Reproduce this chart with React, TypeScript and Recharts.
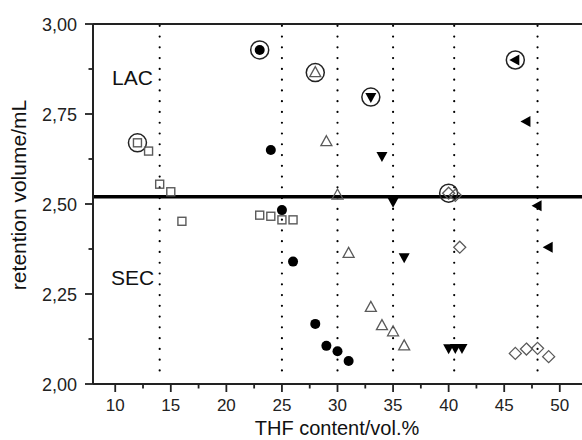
import { ScatterChart, Scatter, XAxis, YAxis, ReferenceLine, Customized } from "recharts";

// [THF vol.%, retention volume mL]
const openSquares = [
  [12, 2.67], [13, 2.647], [14, 2.555], [15, 2.534], [16, 2.452],
  [23, 2.469], [24, 2.466], [25, 2.456], [26, 2.456],
];
const filledCircles = [
  [23, 2.928], [24, 2.65], [25, 2.483], [26, 2.34],
  [28, 2.167], [29, 2.106], [30, 2.091], [31, 2.064],
];
const openTriangles = [
  [28, 2.865], [29, 2.673], [30, 2.525], [31, 2.363],
  [33, 2.213], [34, 2.162], [35, 2.145], [36, 2.106],
];
const filledDownTriangles = [
  [33, 2.797], [34, 2.633], [35, 2.506], [36, 2.352],
  [40, 2.099], [40.6, 2.1], [41.2, 2.1],
];
const openDiamonds = [
  [40, 2.53], [40.6, 2.524], [41, 2.38],
  [46, 2.085], [47, 2.097], [48, 2.099], [49, 2.076],
];
const filledLeftTriangles = [
  [46, 2.9], [47, 2.729], [48, 2.495], [49, 2.38],
];

// the first point of each series is circled in the figure
const circled = [
  openSquares[0], filledCircles[0], openTriangles[0],
  filledDownTriangles[0], openDiamonds[0], filledLeftTriangles[0],
];

const phaseBoundaries = [14, 25, 30, 35, 40.5, 48];
const lacSecBorder = 2.52;

const xTicks = [10, 12.5, 15, 17.5, 20, 22.5, 25, 27.5, 30, 32.5, 35, 37.5, 40, 42.5, 45, 47.5, 50];
const yTicks = [2, 2.125, 2.25, 2.375, 2.5, 2.625, 2.75, 2.875, 3];

const toPts = (arr: number[][]) => arr.map(([x, y]) => ({ x, y }));

const GRAY = "#5a5a5a";
const AXIS = "#222";
const FONT = "Liberation Sans, Arial, sans-serif";

function Marker({ cx, cy, kind }: any) {
  if (cx == null || cy == null) return null;
  switch (kind) {
    case "square":
      return <rect x={cx - 4} y={cy - 4} width={8} height={8} fill="none" stroke={GRAY} strokeWidth={1.4} />;
    case "circle":
      return <circle cx={cx} cy={cy} r={5} fill="#000" />;
    case "up":
      return (
        <polygon
          points={`${cx},${cy - 6} ${cx + 5.5},${cy + 4} ${cx - 5.5},${cy + 4}`}
          fill="none"
          stroke={GRAY}
          strokeWidth={1.3}
        />
      );
    case "down":
      return <polygon points={`${cx - 5.5},${cy - 4} ${cx + 5.5},${cy - 4} ${cx},${cy + 6}`} fill="#000" />;
    case "diamond":
      return (
        <polygon
          points={`${cx},${cy - 6} ${cx + 6},${cy} ${cx},${cy + 6} ${cx - 6},${cy}`}
          fill="none"
          stroke={GRAY}
          strokeWidth={1.3}
        />
      );
    case "left":
      return <polygon points={`${cx - 6},${cy} ${cx + 4},${cy - 5.5} ${cx + 4},${cy + 5.5}`} fill="#000" />;
    case "ring":
      return <circle cx={cx} cy={cy} r={9} fill="none" stroke="#222" strokeWidth={1.5} />;
    default:
      return null;
  }
}

function XTick({ x, y, payload }: any) {
  const major = payload.value % 5 === 0;
  return (
    <g>
      <line x1={x} y1={y} x2={x} y2={y + (major ? 8 : 4.5)} stroke={AXIS} strokeWidth={1.8} />
      {major && (
        <text x={x} y={y + 27} textAnchor="middle" fontSize={17} fontFamily={FONT} fill="#222">
          {payload.value}
        </text>
      )}
    </g>
  );
}

function YTick({ x, y, payload }: any) {
  const v = payload.value;
  const major = Math.abs(v * 4 - Math.round(v * 4)) < 1e-6;
  return (
    <g>
      <line x1={x} y1={y} x2={x - (major ? 8 : 4.5)} y2={y} stroke={AXIS} strokeWidth={1.8} />
      {major && (
        <text x={x - 16} y={y + 6.5} textAnchor="end" fontSize={18} fontFamily={FONT} fill="#222">
          {v.toFixed(2).replace(".", ",")}
        </text>
      )}
    </g>
  );
}

function Annotations() {
  return (
    <g fontFamily={FONT} fill="#111">
      <text x={112} y={85} fontSize={21}>LAC</text>
      <text x={111} y={285} fontSize={21}>SEC</text>
      <text x={337} y={435} fontSize={20} textAnchor="middle">THF content/vol.%</text>
      <text x={26} y={195} fontSize={21} textAnchor="middle" transform="rotate(-90 26 195)">
        retention volume/mL
      </text>
    </g>
  );
}

export default function App() {
  return (
    <div style={{ position: "absolute", left: 0, top: 0, background: "#fff" }}>
      <ScatterChart width={582} height={440} margin={{ top: 24, right: 0, bottom: 0, left: 0 }}>
        <XAxis
          type="number"
          dataKey="x"
          domain={[8, 52]}
          ticks={xTicks}
          interval={0}
          allowDataOverflow
          height={56}
          tickSize={0}
          tickMargin={0}
          tickLine={false}
          axisLine={{ stroke: AXIS, strokeWidth: 2 }}
          tick={<XTick />}
        />
        <YAxis
          type="number"
          dataKey="y"
          domain={[2, 3]}
          ticks={yTicks}
          interval={0}
          allowDataOverflow
          width={93}
          tickSize={0}
          tickMargin={0}
          tickLine={false}
          axisLine={{ stroke: AXIS, strokeWidth: 2 }}
          tick={<YTick />}
        />
        <ReferenceLine y={3} stroke={AXIS} strokeWidth={2} />
        {phaseBoundaries.map((b) => (
          <ReferenceLine
            key={b}
            segment={[{ x: b, y: 2.995 }, { x: b, y: 2.01 }]}
            stroke="#000"
            strokeWidth={2.2}
            strokeLinecap="round"
            strokeDasharray="0 10.77"
          />
        ))}
        <ReferenceLine y={lacSecBorder} stroke="#000" strokeWidth={3.5} />
        <Scatter data={toPts(circled)} isAnimationActive={false} shape={(p: any) => <Marker {...p} kind="ring" />} />
        <Scatter data={toPts(openSquares)} isAnimationActive={false} shape={(p: any) => <Marker {...p} kind="square" />} />
        <Scatter data={toPts(filledCircles)} isAnimationActive={false} shape={(p: any) => <Marker {...p} kind="circle" />} />
        <Scatter data={toPts(openTriangles)} isAnimationActive={false} shape={(p: any) => <Marker {...p} kind="up" />} />
        <Scatter
          data={toPts(filledDownTriangles)}
          isAnimationActive={false}
          shape={(p: any) => <Marker {...p} kind="down" />}
        />
        <Scatter data={toPts(openDiamonds)} isAnimationActive={false} shape={(p: any) => <Marker {...p} kind="diamond" />} />
        <Scatter
          data={toPts(filledLeftTriangles)}
          isAnimationActive={false}
          shape={(p: any) => <Marker {...p} kind="left" />}
        />
        <Customized component={Annotations} />
      </ScatterChart>
    </div>
  );
}
